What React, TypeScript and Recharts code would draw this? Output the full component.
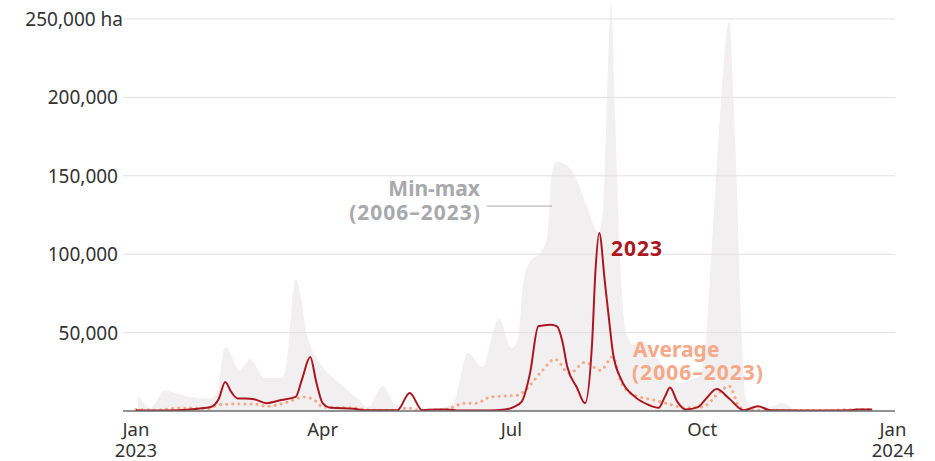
import React from "react";
import { ComposedChart, Area, Line, XAxis, YAxis, ReferenceLine } from "recharts";

// day of year 2023 (0 = 1 Jan) -> burnt area, ha
const MAX_DAYS = [1, 7, 14, 20, 26, 36, 39, 43, 50, 55, 62, 70, 72, 77, 83, 90, 98, 106, 112, 119, 125, 131, 142, 153, 160, 167, 175, 181, 184, 187, 190, 195, 198, 201, 203, 206, 212, 217.5, 223, 225, 227, 229, 231, 233, 236, 240, 244, 250, 255, 262, 267, 271, 274, 277, 281, 286, 289, 292, 294, 298, 305, 312, 318, 330, 363];
const MAX_HA = [10000, 2000, 13000, 11000, 9000, 8000, 12000, 41000, 26000, 33000, 21000, 21000, 25000, 84000, 46000, 28000, 18000, 9000, 2500, 16000, 4000, 2500, 1000, 5000, 37000, 28000, 59000, 40000, 45000, 84000, 95000, 101000, 109000, 155000, 159000, 158000, 149000, 130000, 114000, 125000, 190000, 260000, 190000, 110000, 52000, 42000, 45000, 35000, 28000, 18000, 20000, 22000, 35000, 90000, 175000, 248000, 170000, 50000, 8000, 3000, 2500, 5000, 1000, 500, 500];

const Y2023_DAYS = [0, 10, 20, 30, 36, 40, 43, 46, 49, 53, 57, 63, 70, 77, 80, 84, 87, 90, 94, 105, 110, 126, 132, 138, 145, 150, 156, 170, 178, 182, 186, 190, 194, 200, 203, 205.5, 208, 212.6, 216.5, 220, 221.5, 223.4, 226, 228.5, 230, 234, 240.6, 247, 252, 255, 257.5, 261, 265, 271, 275, 280, 286, 293, 300, 306, 330, 345, 348, 355];
const Y2023_HA = [500, 300, 500, 1500, 2500, 8000, 18500, 12000, 8000, 8000, 7500, 5000, 7000, 9000, 20000, 34500, 18000, 5000, 2000, 1500, 500, 500, 11500, 500, 1000, 1000, 300, 300, 1000, 2500, 6000, 24000, 54000, 55000, 54000, 45000, 28000, 15000, 5000, 45000, 88000, 113500, 83500, 53600, 37000, 20000, 9000, 4000, 2000, 9000, 15000, 6000, 1000, 2500, 8000, 14000, 8000, 500, 3000, 500, 300, 500, 1000, 1000];

const AVG_DAYS = [0, 9, 22, 35, 40, 50, 57, 63, 74, 81, 87, 90, 105, 113, 126, 131, 136, 150, 153, 158, 164, 171, 184, 189, 196, 202, 209, 216.5, 224, 230, 234, 240.5, 250, 258, 265, 273, 281.5, 286, 291, 296, 330, 350, 355];
const AVG_HA = [1000, 500, 2000, 1500, 4000, 4500, 4500, 3000, 6000, 9000, 6000, 2500, 2000, 500, 500, 2000, 500, 1000, 2500, 5000, 5000, 9000, 10000, 15000, 26000, 33000, 24000, 31000, 26000, 34500, 18000, 10000, 7000, 4000, 2000, 2500, 12000, 16000, 2500, 500, 300, 1000, 800];

const X_TICKS = [0, 90, 181, 273, 365];
const X_MONTHS = ["Jan", "Apr", "Jul", "Oct", "Jan"];
const X_YEARS = ["2023", "", "", "", "2024"];
const Y_TICKS = [50000, 100000, 150000, 200000, 250000];

const maxData = MAX_DAYS.map((d, i) => ({ day: d, max: MAX_HA[i] }));
const data2023 = Y2023_DAYS.map((d, i) => ({ day: d, v: Y2023_HA[i] }));
const avgData = AVG_DAYS.map((d, i) => ({ day: d, avg: AVG_HA[i] }));

const FONT = "'Noto Sans', sans-serif";
const RED = "#ab1721";
const PEACH = "#f5a988";
const GREY_TXT = "#a7a9ac";

const XTick = (props: any) => {
  const { x, y, payload } = props;
  const i = X_TICKS.indexOf(payload.value);
  return (
    <text x={x} y={y + 25} textAnchor="middle" fontFamily={FONT} fontSize={18.5} fill="#333">
      <tspan x={x}>{X_MONTHS[i]}</tspan>
      {X_YEARS[i] && (
        <tspan x={x} dy={21}>
          {X_YEARS[i]}
        </tspan>
      )}
    </text>
  );
};

const YTick = (props: any) => {
  const { x, y, payload } = props;
  const top = payload.value === 250000;
  const label = payload.value.toLocaleString("en-US") + (top ? " ha" : "");
  return (
    <text x={top ? x + 5 : x} y={y} textAnchor="end" dominantBaseline="central" fontFamily={FONT} fontSize={19} fill="#333">
      {label}
    </text>
  );
};

export default function App() {
  return (
    <div style={{ position: "absolute", left: 0, top: 0, width: 935, height: 461, background: "#fff" }}>
      <ComposedChart width={935} height={461} margin={{ top: 0, right: 40, left: 0, bottom: 0 }}>
        <XAxis
          dataKey="day"
          type="number"
          domain={[-6.27, 366]}
          allowDataOverflow
          ticks={X_TICKS}
          tick={<XTick />}
          tickLine={false}
          tickSize={0}
          tickMargin={0}
          height={50}
          axisLine={{ stroke: "#6d6e71", strokeWidth: 1.5 }}
        />
        <YAxis
          type="number"
          domain={[0, 262100]}
          allowDataOverflow
          ticks={Y_TICKS}
          tick={<YTick />}
          tickLine={false}
          axisLine={false}
          tickSize={0}
          tickMargin={5}
          width={123}
        />
        <Area
          data={maxData}
          dataKey="max"
          type="monotone"
          fill="#f1eff0"
          fillOpacity={1}
          stroke="none"
          isAnimationActive={false}
        />
        {Y_TICKS.map((t) => (
          <ReferenceLine key={t} y={t} stroke="#e1e1e3" strokeWidth={1} />
        ))}
        <ReferenceLine
          segment={[{ x: 169.2, y: 130700 }, { x: 200.6, y: 130700 }]}
          stroke={GREY_TXT}
          strokeWidth={1}
        />
        <Line
          data={avgData}
          dataKey="avg"
          type="monotone"
          stroke={PEACH}
          strokeWidth={3}
          strokeDasharray="0.1 6"
          strokeLinecap="round"
          dot={false}
          isAnimationActive={false}
        />
        <Line
          data={data2023}
          dataKey="v"
          type="monotone"
          stroke={RED}
          strokeWidth={2}
          dot={false}
          isAnimationActive={false}
        />
      </ComposedChart>
      <svg
        width={935}
        height={461}
        style={{ position: "absolute", left: 0, top: 0, pointerEvents: "none" }}
        fontFamily={FONT}
        fontWeight={700}
        fontSize={21}
      >
        <text textAnchor="end" fill={GREY_TXT}>
          <tspan x={480} y={196}>Min-max</tspan>
          <tspan x={481} y={220} letterSpacing={1}>(2006–2023)</tspan>
        </text>
        <text x={611} y={256} fill={RED} letterSpacing={1}>2023</text>
        <text fill={PEACH}>
          <tspan x={633} y={357}>Average</tspan>
          <tspan x={632} y={380} letterSpacing={1}>(2006–2023)</tspan>
        </text>
      </svg>
    </div>
  );
}
